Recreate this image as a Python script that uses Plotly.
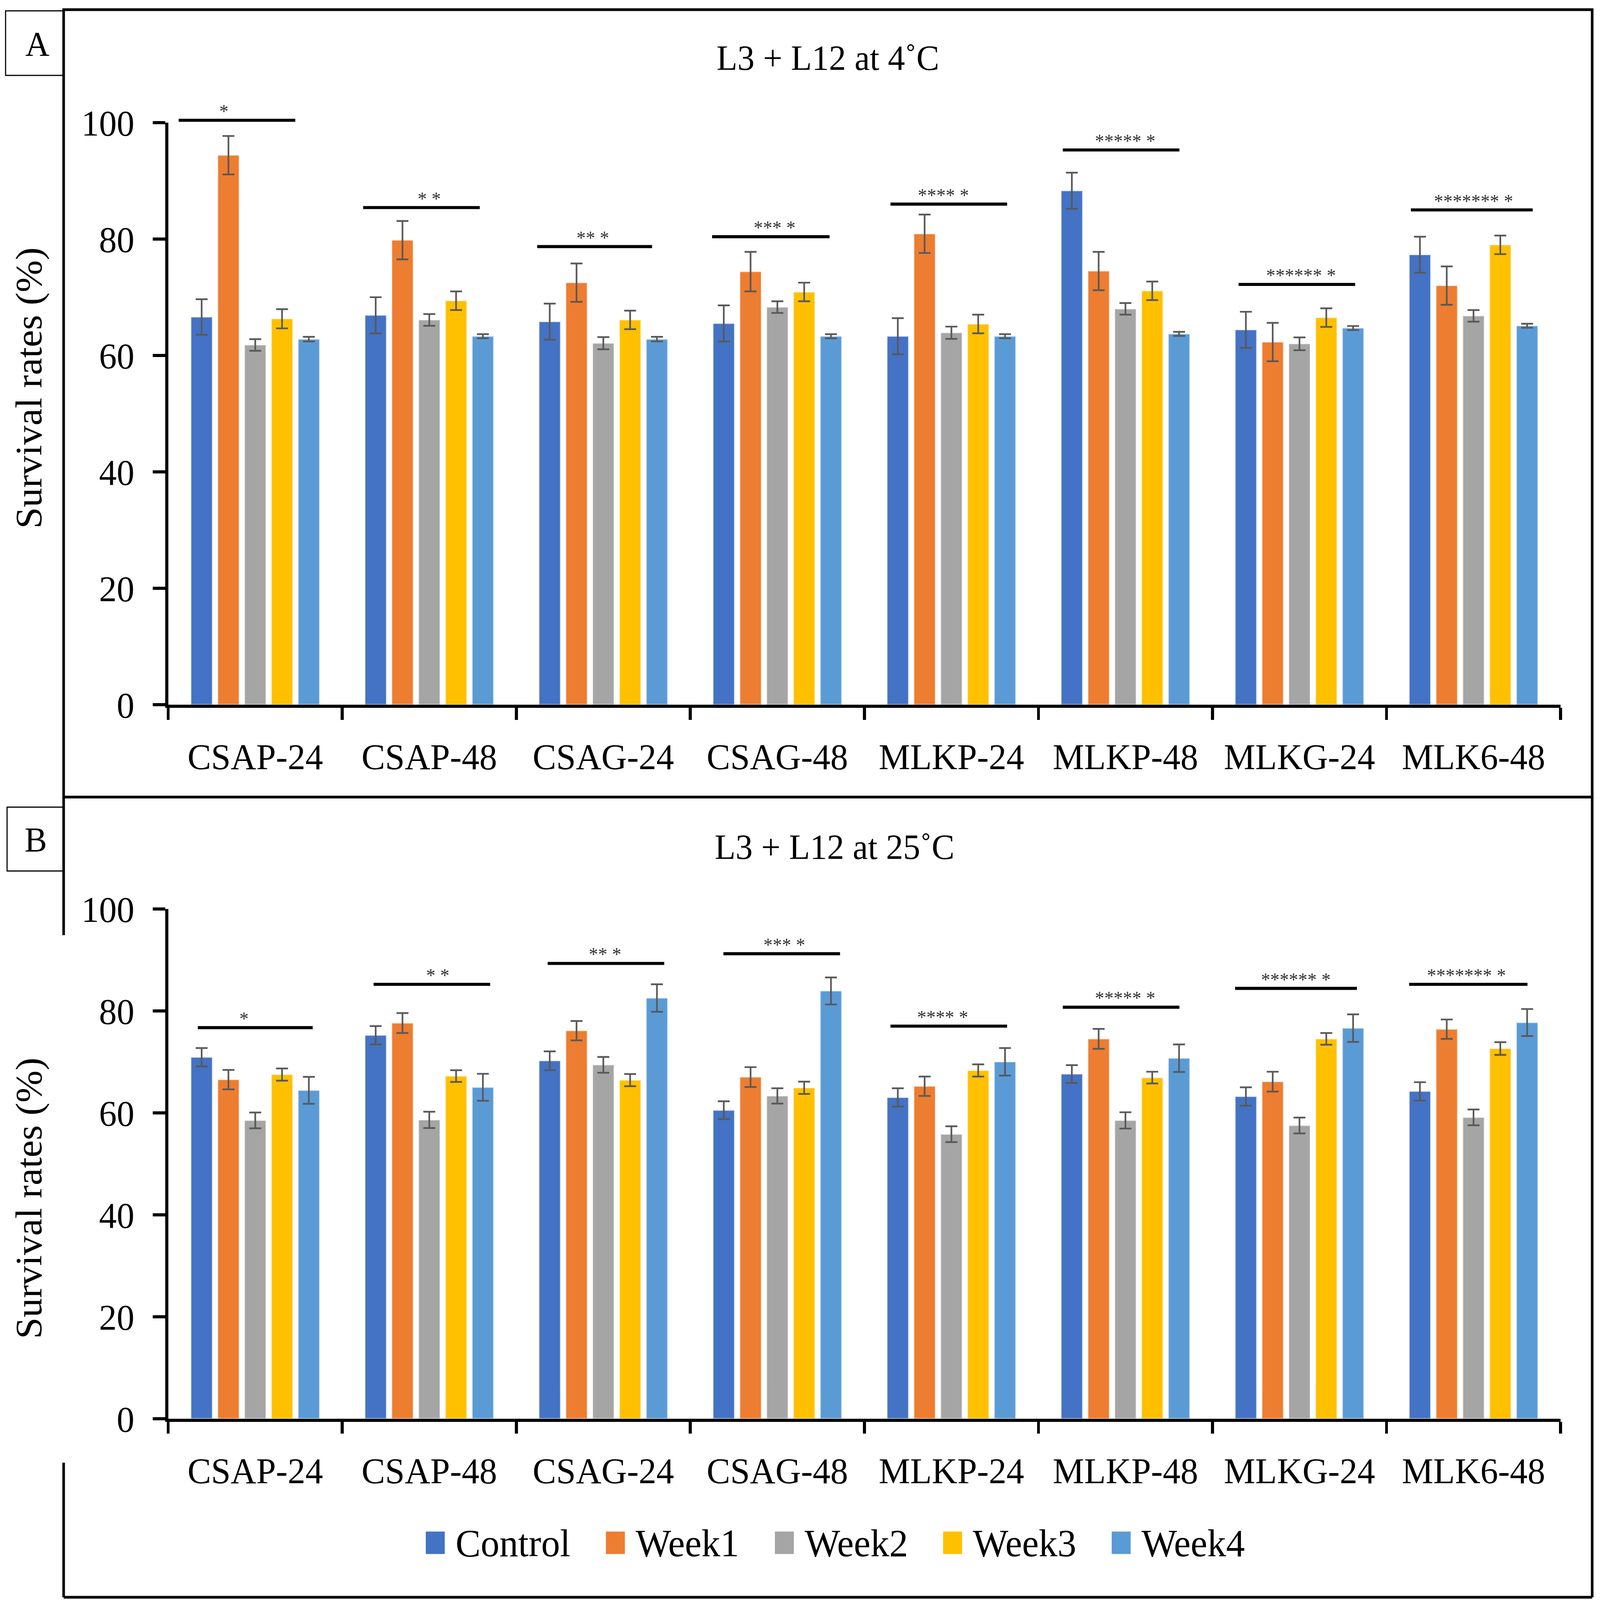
import plotly.graph_objects as go

W, H = 4299, 4137
FONT = "Liberation Serif, Times New Roman, serif"

categories = ["CSAP-24", "CSAP-48", "CSAG-24", "CSAG-48", "MLKP-24", "MLKP-48", "MLKG-24", "MLK6-48"]
series_names = ["Control", "Week1", "Week2", "Week3", "Week4"]
colors = ["#4472C4", "#ED7D31", "#A5A5A5", "#FFC000", "#5B9BD5"]
y_ticks = [0, 20, 40, 60, 80, 100]

# Panel A: L3 + L12 at 4°C
a_control = [66.6, 66.9, 65.8, 65.5, 63.3, 88.3, 64.4, 77.3]
a_week1 = [94.4, 79.8, 72.5, 74.4, 80.9, 74.5, 62.3, 72.0]
a_week2 = [61.8, 66.1, 62.1, 68.3, 63.9, 68.0, 62.0, 66.8]
a_week3 = [66.3, 69.4, 66.1, 70.9, 65.4, 71.1, 66.5, 79.0]
a_week4 = [62.8, 63.3, 62.8, 63.3, 63.3, 63.7, 64.7, 65.1]
a_err_control = [3.05, 3.1, 3.1, 3.1, 3.1, 3.1, 3.1, 3.1]
a_err_week1 = [3.3, 3.3, 3.3, 3.4, 3.3, 3.3, 3.3, 3.3]
a_err_week2 = [1.0, 1.0, 1.05, 1.0, 1.05, 1.0, 1.1, 1.0]
a_err_week3 = [1.65, 1.6, 1.6, 1.6, 1.6, 1.6, 1.6, 1.6]
a_err_week4 = [0.4, 0.35, 0.4, 0.35, 0.35, 0.35, 0.35, 0.35]
a_sig_level = [100.4, 85.4, 78.7, 80.4, 86.0, 95.3, 72.2, 85.0]
a_sig_text = ["*", "* *", "** *", "*** *", "**** *", "***** *", "****** *", "******* *"]

# Panel B: L3 + L12 at 25°C
b_control = [70.9, 75.2, 70.2, 60.5, 63.0, 67.6, 63.2, 64.2]
b_week1 = [66.5, 77.6, 76.1, 67.0, 65.2, 74.5, 66.1, 76.4]
b_week2 = [58.5, 58.6, 69.4, 63.3, 55.8, 58.5, 57.5, 59.1]
b_week3 = [67.5, 67.2, 66.4, 64.9, 68.3, 66.9, 74.5, 72.6]
b_week4 = [64.4, 65.0, 82.5, 83.9, 70.0, 70.7, 76.6, 77.7]
b_err_control = [1.8, 1.8, 1.85, 1.75, 1.8, 1.75, 1.8, 1.8]
b_err_week1 = [1.9, 1.95, 1.9, 1.95, 1.9, 1.95, 1.95, 1.9]
b_err_week2 = [1.55, 1.6, 1.55, 1.5, 1.55, 1.6, 1.55, 1.55]
b_err_week3 = [1.2, 1.15, 1.2, 1.2, 1.2, 1.15, 1.15, 1.25]
b_err_week4 = [2.65, 2.65, 2.7, 2.65, 2.7, 2.7, 2.7, 2.65]
b_sig_level = [76.7, 85.2, 89.3, 91.2, 77.0, 80.7, 84.4, 85.2]
b_sig_text = ["*", "* *", "** *", "*** *", "**** *", "***** *", "****** *", "******* *"]

# Significance bar spans (category units relative to group centre) and text offsets
a_sig_span = [(-0.44, 0.23), (-0.38, 0.29), (-0.38, 0.28), (-0.375, 0.30),
              (-0.35, 0.32), (-0.36, 0.31), (-0.35, 0.32), (-0.36, 0.34)]
a_sig_text_dx = [-0.18, 0.0, -0.06, -0.015, -0.045, 0.0, 0.01, 0.0]
b_sig_span = [(-0.33, 0.33), (-0.32, 0.35), (-0.32, 0.35), (-0.31, 0.36),
              (-0.35, 0.32), (-0.36, 0.31), (-0.37, 0.33), (-0.37, 0.31)]
b_sig_text_dx = [-0.065, 0.05, 0.01, 0.04, -0.05, 0.0, -0.02, -0.04]

Y_RANGE = [0, 100]


def px_x(p):
    return p / W


def px_y(p):
    return 1 - p / H


fig = go.Figure()

panels = [
    ("x", "y", [a_control, a_week1, a_week2, a_week3, a_week4],
     [a_err_control, a_err_week1, a_err_week2, a_err_week3, a_err_week4]),
    ("x2", "y2", [b_control, b_week1, b_week2, b_week3, b_week4],
     [b_err_control, b_err_week1, b_err_week2, b_err_week3, b_err_week4]),
]

for xa, ya, vals, errs in panels:
    for name, color, v, e in zip(series_names, colors, vals, errs):
        fig.add_trace(go.Bar(
            x=categories, y=v, name=name, xaxis=xa, yaxis=ya,
            marker=dict(color=color, line=dict(color="rgba(255,255,255,0.55)", width=3)),
            error_y=dict(type="data", array=e, visible=True, color="#595959",
                         thickness=4.5, width=16),
            showlegend=False,
        ))

x_dom = [px_x(452), px_x(4193)]
axis_common = dict(
    showline=True, linecolor="black", linewidth=8, mirror=False,
    ticks="outside", tickcolor="black", tickwidth=8,
    showgrid=False, zeroline=False, automargin=False,
)
x_axis_style = dict(type="category", range=[-0.5, 7.5], tickson="boundaries", ticklen=31,
                    tickfont=dict(size=95, family=FONT), ticklabelstandoff=45, **axis_common)
y_axis_style = dict(range=Y_RANGE, tickvals=y_ticks, ticklen=34,
                    tickfont=dict(size=95, family=FONT), ticklabelstandoff=30, **axis_common)

fig.update_layout(
    template="none",
    autosize=False,
    width=W, height=H, margin=dict(l=0, r=0, t=0, b=0, pad=0, autoexpand=False),
    paper_bgcolor="white", plot_bgcolor="white",
    barmode="group", bargap=0.23, bargroupgap=0.2,
    showlegend=False,
    font=dict(family=FONT, color="black"),
    xaxis=dict(domain=x_dom, anchor="y", **x_axis_style),
    yaxis=dict(domain=[px_y(1822), px_y(317)], anchor="x", **y_axis_style),
    xaxis2=dict(domain=x_dom, anchor="y2", **x_axis_style),
    yaxis2=dict(domain=[px_y(3668), px_y(2350)], anchor="x2", **y_axis_style),
)

shapes = []
annotations = []


def dom(v):
    return (v - Y_RANGE[0]) / (Y_RANGE[1] - Y_RANGE[0])


for xa, ya, levels, spans, texts, dxs in [
    ("x", "y", a_sig_level, a_sig_span, a_sig_text, a_sig_text_dx),
    ("x2", "y2", b_sig_level, b_sig_span, b_sig_text, b_sig_text_dx),
]:
    for i, (lvl, (s0, s1), t, dx) in enumerate(zip(levels, spans, texts, dxs)):
        shapes.append(dict(type="line", xref=xa, yref=ya + " domain",
                           x0=i + s0, x1=i + s1, y0=dom(lvl), y1=dom(lvl),
                           line=dict(color="black", width=8)))
        annotations.append(dict(xref=xa, yref=ya + " domain", x=i + dx, y=dom(lvl), text=t,
                                showarrow=False, xanchor="center", yanchor="bottom",
                                yshift=-6, font=dict(size=50, family=FONT, color="#333333")))

# Panel frames
frame_w = 7
shapes += [
    dict(type="rect", xref="paper", yref="paper", x0=px_x(171), x1=px_x(4278),
         y0=px_y(2061), y1=px_y(25), line=dict(color="black", width=frame_w)),
    dict(type="line", xref="paper", yref="paper", x0=px_x(171), x1=px_x(4278),
         y0=px_y(4130), y1=px_y(4130), line=dict(color="black", width=frame_w)),
    dict(type="line", xref="paper", yref="paper", x0=px_x(4278), x1=px_x(4278),
         y0=px_y(2061), y1=px_y(4130), line=dict(color="black", width=frame_w)),
    dict(type="line", xref="paper", yref="paper", x0=px_x(171), x1=px_x(171),
         y0=px_y(2061), y1=px_y(2418), line=dict(color="black", width=frame_w)),
    dict(type="line", xref="paper", yref="paper", x0=px_x(171), x1=px_x(171),
         y0=px_y(3782), y1=px_y(4130), line=dict(color="black", width=frame_w)),
    # label boxes
    dict(type="rect", xref="paper", yref="paper", x0=px_x(15), x1=px_x(171),
         y0=px_y(195), y1=px_y(28), line=dict(color="black", width=3)),
    dict(type="rect", xref="paper", yref="paper", x0=px_x(19), x1=px_x(171),
         y0=px_y(2252), y1=px_y(2087), line=dict(color="black", width=3)),
]

centered = dict(xref="paper", yref="paper", showarrow=False, xanchor="center", yanchor="middle")
annotations += [
    dict(x=px_x(100), y=px_y(112), text="A", font=dict(size=90, family=FONT), **centered),
    dict(x=px_x(96), y=px_y(2170), text="B", font=dict(size=90, family=FONT), **centered),
    dict(x=px_x(2224), y=px_y(150), text="L3 + L12 at 4˚C",
         font=dict(size=92, family=FONT), **centered),
    dict(x=px_x(2242), y=px_y(2190), text="L3 + L12 at 25˚C",
         font=dict(size=92, family=FONT), **centered),
    dict(x=px_x(77), y=px_y(1003), text="Survival rates (%)", textangle=-90,
         font=dict(size=100, family=FONT), **centered),
    dict(x=px_x(77), y=px_y(3098), text="Survival rates (%)", textangle=-90,
         font=dict(size=100, family=FONT), **centered),
]

# Legend (drawn manually so the swatches match the reference size)
legend_left = [1144, 1628, 2082, 2534, 2987]
for name, color, lx in zip(series_names, colors, legend_left):
    shapes.append(dict(type="rect", xref="paper", yref="paper",
                       x0=px_x(lx), x1=px_x(lx + 51), y0=px_y(4018), y1=px_y(3960),
                       fillcolor=color, line=dict(width=0)))
    annotations.append(dict(xref="paper", yref="paper", x=px_x(lx + 78), y=px_y(3990),
                            text=name, showarrow=False, xanchor="left", yanchor="middle",
                            font=dict(size=101, family=FONT)))

fig.update_layout(shapes=shapes, annotations=annotations)

fit_js = """
document.body.style.margin = '0';
document.body.style.overflow = 'hidden';
var gd = document.getElementById('{plot_id}');
function fitToWindow() {
    var sx = Math.min(1, window.innerWidth / %d);
    var sy = Math.min(1, window.innerHeight / %d);
    gd.style.transformOrigin = '0 0';
    gd.style.transform = 'scale(' + sx + ',' + sy + ')';
}
fitToWindow();
window.addEventListener('resize', fitToWindow);
""" % (W, H)

fig.write_html("out.html", config={"displayModeBar": False}, post_script=fit_js)
